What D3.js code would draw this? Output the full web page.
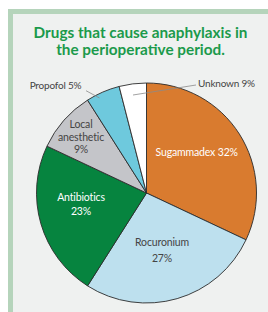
<!DOCTYPE html>
<html>
<head>
<meta charset="utf-8">
<script src="https://cdn.jsdelivr.net/npm/d3@7"></script>
<style>
  html, body { margin: 0; padding: 0; background: #fff; }
</style>
</head>
<body>
<div id="chart"></div>
<script>
// slice sizes as drawn (the "Unknown" wedge is drawn at 4 although it is labelled 9%)
const drugs = ["Sugammadex", "Rocuronium", "Antibiotics", "Local anesthetic", "Propofol", "Unknown"];
const shares = [32, 27, 23, 9, 5, 4];
const shareLabels = ["32%", "27%", "23%", "9%", "5%", "9%"];
const colors = ["#d97b2f", "#bde0ee", "#06843f", "#c4c5c9", "#6ec9dd", "#ffffff"];
const titleLines = ["Drugs that cause anaphylaxis in", "the perioperative period."];

const width = 268;
const height = 312;
const cx = 146.5, cy = 193, radius = 110;

const svg = d3.select("#chart")
  .append("svg")
  .attr("width", width)
  .attr("height", height)
  .attr("font-family", "Lato, 'Open Sans', sans-serif");

// panel with light green left/top strips
svg.append("rect").attr("x", 8).attr("y", 9).attr("width", width - 8).attr("height", height - 9)
  .attr("fill", "#b5d4bb");
svg.append("rect").attr("x", 13).attr("y", 14).attr("width", width - 13).attr("height", height - 14)
  .attr("fill", "#eff1f0");

svg.append("g")
  .selectAll("text")
  .data(titleLines)
  .join("text")
  .attr("x", 140.5)
  .attr("y", (d, i) => 37.5 + i * 17.5)
  .attr("text-anchor", "middle")
  .attr("font-size", 15.3)
  .attr("font-weight", 700)
  .attr("fill", "#1b9a4b")
  .text(d => d);

const pie = d3.pie().sort(null).value(d => d);
const arcs = pie(shares);
const arc = d3.arc().innerRadius(0).outerRadius(radius);

const g = svg.append("g").attr("transform", `translate(${cx},${cy})`);

g.selectAll("path")
  .data(arcs)
  .join("path")
  .attr("d", arc)
  .attr("fill", (d, i) => colors[i])
  .attr("stroke", "#2b2b2b")
  .attr("stroke-width", 0.9);

// inside labels: [lines, x, first baseline, line height, colour]
const inside = [
  [[drugs[0] + " " + shareLabels[0]], 50.2, -37, 0, "#ffffff"],
  [[drugs[1], shareLabels[1]], 15.5, 53, 15.7, "#444444"],
  [[drugs[2], shareLabels[2]], -65.5, 7.7, 14.5, "#ffffff"],
  [["Local", "anesthetic", shareLabels[3]], -65.5, -64.7, 12.2, "#444444"]
];

inside.forEach(([lines, x, y0, lh, col]) => {
  const t = g.append("text")
    .attr("text-anchor", "middle")
    .attr("font-size", 10.5)
    .attr("fill", col)
    .attr("letter-spacing", -0.15);
  lines.forEach((s, k) => {
    t.append("tspan")
      .attr("x", x)
      .attr("y", y0 + k * lh)
      .text(s);
  });
});

// outside labels with leader lines
const outside = [
  [drugs[4] + " " + shareLabels[4], [-91, -104], "middle", [-60.5, -102.3], [-47, -95]],
  [drugs[5] + " " + shareLabels[5], [51.5, -106.3], "start", [49.5, -108], [-13.5, -98]]
];

outside.forEach(([label, pos, anchor, p0, p1]) => {
  g.append("line")
    .attr("x1", p0[0]).attr("y1", p0[1])
    .attr("x2", p1[0]).attr("y2", p1[1])
    .attr("stroke", "#8a8a8a")
    .attr("stroke-width", 0.8);
  g.append("text")
    .attr("x", pos[0])
    .attr("y", pos[1])
    .attr("text-anchor", anchor)
    .attr("font-size", 10)
    .attr("fill", "#444444")
    .attr("letter-spacing", -0.2)
    .text(label);
});
</script>
</body>
</html>
